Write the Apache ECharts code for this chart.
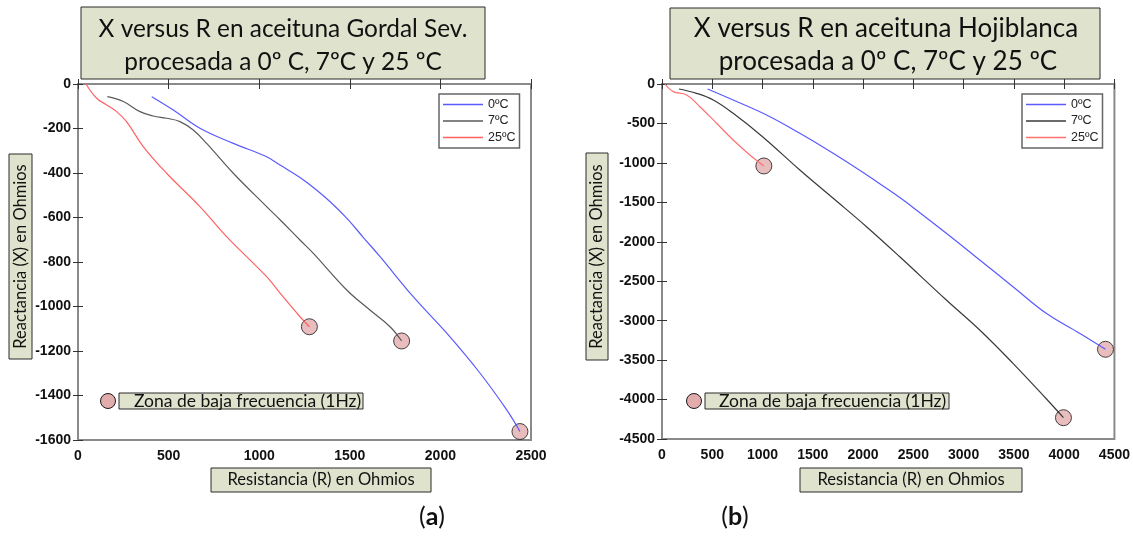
<!DOCTYPE html>
<html>
<head>
<meta charset="utf-8">
<script src="https://cdn.jsdelivr.net/npm/echarts@6/dist/echarts.min.js"></script>
<style>
html,body{margin:0;padding:0;background:#fff;}
#c{width:1133px;height:536px;}
</style>
</head>
<body>
<div id="c"></div>
<script>
// ---------- Data (a) Gordal Sev. ----------
var a_R0  = [407, 526, 673, 857, 1041, 1115, 1225, 1299, 1390, 1483, 1575, 1667, 1850, 2035, 2219, 2366, 2439];
var a_X0  = [-57, -117, -199, -267, -327, -364, -420, -465, -528, -603, -690, -776, -956, -1120, -1300, -1465, -1562];
var a_R7  = [162, 250, 342, 416, 489, 563, 636, 710, 857, 1041, 1115, 1225, 1299, 1483, 1611, 1722, 1786];
var a_X7  = [-57, -79, -124, -144, -154, -169, -207, -267, -401, -551, -610, -701, -761, -926, -1016, -1091, -1155];
var a_R25 = [44, 103, 158, 213, 268, 360, 489, 673, 820, 1041, 1115, 1225, 1277];
var a_X25 = [0, -64, -94, -124, -169, -281, -401, -551, -686, -866, -940, -1046, -1091];
// ---------- Data (b) Hojiblanca ----------
var b_R0  = [454, 708, 1040, 1371, 1702, 2034, 2166, 2365, 2497, 2828, 3160, 3491, 3822, 4153, 4411];
var b_X0  = [-63, -203, -393, -625, -878, -1150, -1265, -1440, -1565, -1893, -2231, -2569, -2907, -3160, -3363];
var b_R7  = [169, 344, 510, 708, 1000, 1371, 1703, 2034, 2365, 2828, 3160, 3491, 3822, 3993];
var b_X7  = [-63, -118, -203, -372, -668, -1090, -1449, -1809, -2190, -2738, -3118, -3541, -3990, -4230];
var b_R25 = [30, 112, 245, 377, 543, 708, 874, 1013];
var b_X25 = [0, -97, -139, -288, -498, -710, -900, -1039];

var seriesNames = ['0ºC', '7ºC', '25ºC'];
var titleA = ['X versus R en aceituna Gordal Sev.', 'procesada a 0º C, 7ºC y 25 ºC'];
var titleB = ['X versus R en aceituna Hojiblanca', 'procesada a 0º C, 7ºC y 25 ºC'];
var xName = 'Resistancia (R) en Ohmios';
var yName = 'Reactancia (X) en Ohmios';
var noteText = 'Zona de baja frecuencia (1Hz)';

function pairs(R, X) { return R.map(function (r, i) { return [r, X[i]]; }); }
function lastPt(R, X) { return [R[R.length - 1], X[X.length - 1]]; }

var colA = ['#5a5aff', '#5a5a5a', '#ff6262'];
var colB = ['#5a5aff', '#3a3a3a', '#ff7070'];
var boxFill = '#dfe3cd';
var circFill = '#e3acac';

var tickFont = {fontFamily: 'Arial, "Liberation Sans", sans-serif', fontWeight: 700, fontSize: 14, color: '#111',
  formatter: function (v) { return String(v); }};

function xAx(gi, max, interval, top) {
  return {
    gridIndex: gi, type: 'value', min: 0, max: max, interval: interval,
    position: top ? 'top' : 'bottom',
    axisLine: {show: false},
    splitLine: {show: false},
    axisTick: {show: true, inside: true, length: 5, lineStyle: {color: '#333', width: 1}},
    axisLabel: top ? {show: false} : Object.assign({margin: 9, showMinLabel: true, showMaxLabel: true}, tickFont)
  };
}
function yAx(gi, min, interval, right) {
  return {
    gridIndex: gi, type: 'value', min: min, max: 0, interval: interval,
    position: right ? 'right' : 'left',
    axisLine: {show: false},
    splitLine: {show: false},
    axisTick: {show: true, inside: true, length: 5, lineStyle: {color: '#333', width: 1}},
    axisLabel: right ? {show: false} : Object.assign({margin: 7, showMinLabel: true, showMaxLabel: true}, tickFont)
  };
}
function lineS(name, data, color, xi, yi) {
  return {
    name: name, type: 'line', data: data, xAxisIndex: xi, yAxisIndex: yi,
    smooth: 0.4, symbol: 'none', z: 3, color: color,
    lineStyle: {color: color, width: 1.2}, silent: true
  };
}
function endS(data, xi, yi) {
  return {
    type: 'scatter', data: data, xAxisIndex: xi, yAxisIndex: yi, symbol: 'circle', symbolSize: 16, z: 2,
    itemStyle: {color: circFill, borderColor: '#1a1a1a', borderWidth: 1}, silent: true
  };
}
function legendCfg(left, cols) {
  return {
    left: left, top: 94, orient: 'vertical', icon: 'rect', itemWidth: 40, itemHeight: 1.5, itemGap: 3.5,
    padding: [4, 4, 4, 4], borderColor: '#666', borderWidth: 1.5, backgroundColor: '#fff', borderRadius: 0,
    selectedMode: false,
    textStyle: {fontFamily: 'Arial, "Liberation Sans", sans-serif', fontSize: 12.5, color: '#222'},
    data: seriesNames.map(function (n, i) { return {name: n, itemStyle: {color: cols[i]}}; })
  };
}
var calibri = 'Lato';
function box(x, y, w, h) {
  return {type: 'rect', shape: {x: x, y: y, width: w, height: h}, style: {fill: boxFill, stroke: '#2a2a2a', lineWidth: 1}, z: 50};
}
function txt(t, x, y, size, extra) {
  return Object.assign({type: 'text', x: x, y: y, z: 51,
    style: {text: t, fontFamily: calibri, fontSize: size, fill: '#111', align: 'center', verticalAlign: 'middle'}}, extra || {});
}
function note(t, x, y) {
  return {type: 'text', x: x, y: y, z: 51,
    style: {text: t, fontFamily: calibri, fontSize: 17.5, fill: '#111', align: 'left', verticalAlign: 'middle'}};
}

var chart = echarts.init(document.getElementById('c'), null, {renderer: 'canvas'});
chart.setOption({
  animation: false,
  backgroundColor: '#fff',
  grid: [
    {left: 78, top: 84, width: 453, height: 356, show: true, borderColor: '#8a8a8a', borderWidth: 2, backgroundColor: '#fff'},
    {left: 662, top: 84, width: 453, height: 355, show: true, borderColor: '#8a8a8a', borderWidth: 2, backgroundColor: '#fff'}
  ],
  xAxis: [xAx(0, 2500, 500, false), xAx(0, 2500, 500, true), xAx(1, 4500, 500, false), xAx(1, 4500, 500, true)],
  yAxis: [yAx(0, -1600, 200, false), yAx(0, -1600, 200, true), yAx(1, -4500, 500, false), yAx(1, -4500, 500, true)],
  legend: [legendCfg(439, colA), legendCfg(1022, colB)],
  series: [
    lineS(seriesNames[0], pairs(a_R0, a_X0), colA[0], 0, 0),
    lineS(seriesNames[1], pairs(a_R7, a_X7), colA[1], 0, 0),
    lineS(seriesNames[2], pairs(a_R25, a_X25), colA[2], 0, 0),
    endS([lastPt(a_R0, a_X0), lastPt(a_R7, a_X7), lastPt(a_R25, a_X25)], 0, 0),
    lineS(seriesNames[0], pairs(b_R0, b_X0), colB[0], 2, 2),
    lineS(seriesNames[1], pairs(b_R7, b_X7), colB[1], 2, 2),
    lineS(seriesNames[2], pairs(b_R25, b_X25), colB[2], 2, 2),
    endS([lastPt(b_R0, b_X0), lastPt(b_R7, b_X7), lastPt(b_R25, b_X25)], 2, 2)
  ],
  graphic: [
    box(81, 7, 404, 72),
    txt(titleA[0], 283, 29, 24.4),
    txt(titleA[1], 283, 62, 24.4),
    box(670, 8, 430, 71),
    txt(titleB[0], 886, 29, 26),
    txt(titleB[1], 888, 62, 26),
    box(9, 154, 23, 205),
    txt(yName, 20.5, 256.5, 16.5, {rotation: Math.PI / 2}),
    box(586, 153, 22, 207),
    txt(yName, 597, 256.5, 16.5, {rotation: Math.PI / 2}),
    box(211, 468, 220, 24),
    txt(xName, 321, 480, 16.6),
    box(800, 468, 222, 24),
    txt(xName, 911, 480, 16.6),
    {type: 'circle', shape: {cx: 108, cy: 401, r: 7.5}, style: {fill: circFill, stroke: '#1a1a1a', lineWidth: 1}, z: 50},
    box(119, 393, 244, 16),
    note(noteText, 134, 401.5),
    {type: 'circle', shape: {cx: 694, cy: 401, r: 7.5}, style: {fill: circFill, stroke: '#1a1a1a', lineWidth: 1}, z: 50},
    box(705, 393, 244, 16),
    note(noteText, 719, 401.5),
    {type: 'text', x: 432, y: 517, z: 51, style: {text: '({b|a})', fontFamily: calibri, fontSize: 25, fill: '#111', align: 'center', verticalAlign: 'middle',
      rich: {b: {fontFamily: calibri, fontSize: 25, fontWeight: 'bold', fill: '#111'}}}},
    {type: 'text', x: 735, y: 517, z: 51, style: {text: '({b|b})', fontFamily: calibri, fontSize: 25, fill: '#111', align: 'center', verticalAlign: 'middle',
      rich: {b: {fontFamily: calibri, fontSize: 25, fontWeight: 'bold', fill: '#111'}}}}
  ]
});
</script>
</body>
</html>
